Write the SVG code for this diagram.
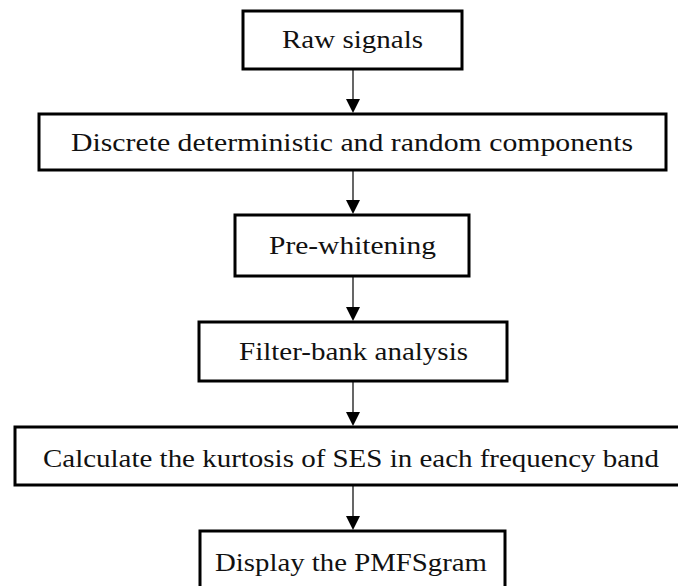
<svg xmlns="http://www.w3.org/2000/svg" width="678" height="586" viewBox="0 0 678 586">
<defs>
<style>
.box{fill:#fff;stroke:#000;stroke-width:3}
.lbl{font-family:"Liberation Serif","DejaVu Serif",serif;font-size:26px;fill:#111;text-anchor:middle}
.conn{stroke:#000;stroke-width:1.2;fill:none}
.head{fill:#000}
</style>
</defs>
<rect width="678" height="586" fill="#fff"/>
<g id="connectors">
<line class="conn" x1="353" y1="69" x2="353" y2="100"/>
<path class="head" d="M346,99 L360,99 L353,113 Z"/>
<line class="conn" x1="353" y1="170" x2="353" y2="201"/>
<path class="head" d="M346,200 L360,200 L353,214 Z"/>
<line class="conn" x1="353" y1="276" x2="353" y2="308"/>
<path class="head" d="M346,307 L360,307 L353,321 Z"/>
<line class="conn" x1="353" y1="381" x2="353" y2="413"/>
<path class="head" d="M346,412 L360,412 L353,426 Z"/>
<line class="conn" x1="353" y1="485" x2="353" y2="517"/>
<path class="head" d="M346,516 L360,516 L353,530 Z"/>
</g>
<g id="n1"><rect class="box" x="243" y="11" width="219" height="58"/><text class="lbl" x="352.5" y="48" textLength="141" lengthAdjust="spacingAndGlyphs">Raw signals</text></g>
<g id="n2"><rect class="box" x="39" y="114" width="627" height="56"/><text class="lbl" x="352" y="151" textLength="562" lengthAdjust="spacingAndGlyphs">Discrete deterministic and random components</text></g>
<g id="n3"><rect class="box" x="235" y="215" width="234" height="61"/><text class="lbl" x="352.5" y="254" textLength="167" lengthAdjust="spacingAndGlyphs">Pre-whitening</text></g>
<g id="n4"><rect class="box" x="199" y="322" width="308" height="59"/><text class="lbl" x="353.5" y="360" textLength="229" lengthAdjust="spacingAndGlyphs">Filter-bank analysis</text></g>
<g id="n5"><rect class="box" x="15" y="427" width="676" height="58"/><text class="lbl" x="351" y="467" textLength="616" lengthAdjust="spacingAndGlyphs">Calculate the kurtosis of SES in each frequency band</text></g>
<g id="n6"><rect class="box" x="200" y="531" width="305" height="60"/><text class="lbl" x="351" y="571" textLength="272" lengthAdjust="spacingAndGlyphs">Display the PMFSgram</text></g>
</svg>
